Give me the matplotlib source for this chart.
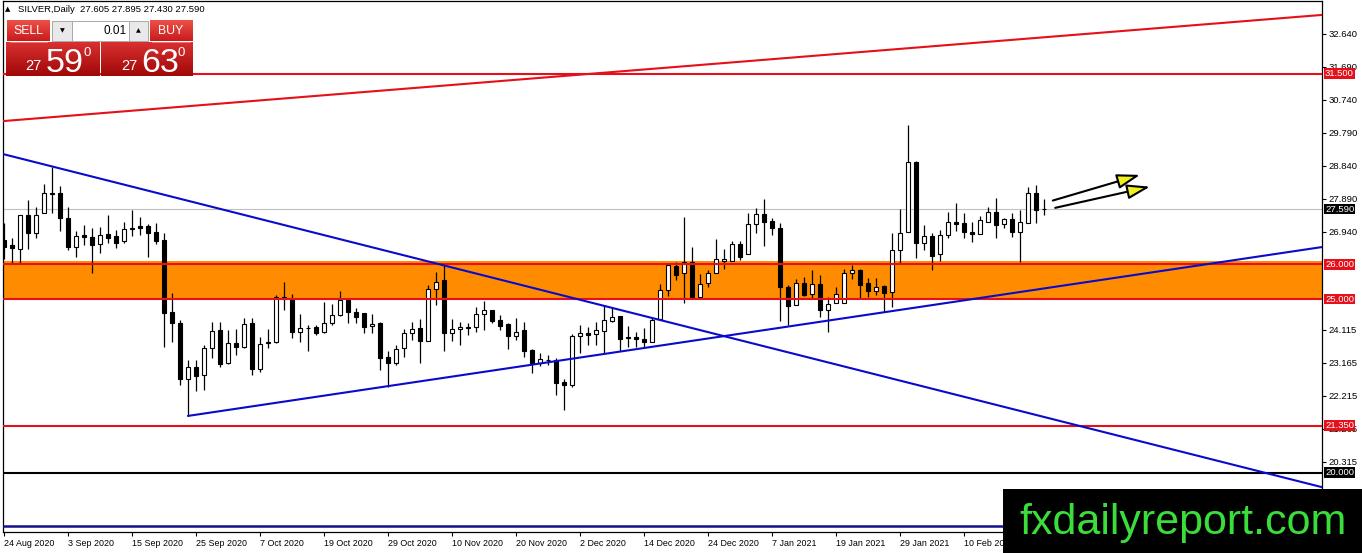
import numpy as np
import matplotlib
matplotlib.use('Agg')
import matplotlib.pyplot as plt
from matplotlib import font_manager
from matplotlib.colors import to_rgb
from matplotlib.patches import Rectangle

# daily candles, 24 Aug 2020 .. 23 Feb 2021
opens = [26.70, 26.56, 26.45, 27.41, 26.91, 27.49, 28.07, 28.05, 27.35, 26.51,
	26.84, 26.78, 26.58, 26.87, 26.81, 26.67, 27.03, 27.10, 27.10, 26.92,
	26.70, 24.62, 24.30, 22.69, 23.05, 22.81, 23.58, 24.11, 23.15, 23.73,
	23.61, 24.30, 22.98, 23.73, 23.75, 25.07, 25.02, 24.04, 24.18, 24.19,
	24.04, 24.30, 24.53, 24.97, 24.62, 24.59, 24.23, 24.30, 23.32, 23.17,
	23.58, 24.01, 24.16, 23.80, 25.28, 25.55, 24.01, 24.13, 24.18, 24.21,
	24.56, 24.69, 24.40, 24.28, 23.95, 24.11, 23.53, 23.17, 23.24, 23.24,
	22.60, 22.52, 23.94, 24.03, 24.00, 24.09, 24.38, 24.50, 23.90, 23.90,
	23.85, 23.76, 24.42, 25.26, 25.94, 25.74, 26.08, 25.07, 25.45, 25.74,
	26.11, 26.11, 26.59, 26.30, 27.16, 27.45, 27.26, 27.04, 25.34, 24.83,
	25.47, 25.15, 25.43, 24.69, 24.90, 24.88, 25.74, 25.84, 25.46, 25.24,
	25.38, 25.20, 26.42, 26.92, 28.96, 26.61, 26.82, 26.29, 26.85, 27.23,
	27.20, 26.94, 26.89, 27.23, 27.50, 27.16, 27.30, 26.94, 27.18, 28.05,
	27.605]
highs = [27.20, 26.75, 27.43, 27.87, 27.64, 28.32, 28.80, 28.26, 27.64, 26.96,
	27.13, 27.04, 27.07, 27.41, 26.99, 27.23, 27.57, 27.38, 27.16, 27.18,
	26.90, 25.17, 24.40, 23.25, 23.25, 23.68, 24.33, 24.35, 24.11, 24.13,
	24.45, 24.45, 23.92, 24.13, 25.12, 25.50, 25.15, 24.57, 24.25, 24.25,
	24.93, 24.86, 25.24, 25.02, 24.73, 24.61, 24.57, 24.35, 23.51, 23.68,
	24.13, 24.35, 24.42, 25.41, 25.79, 25.98, 24.42, 24.35, 24.32, 24.76,
	24.95, 24.70, 24.54, 24.30, 24.45, 24.35, 23.55, 23.44, 23.39, 23.29,
	22.69, 23.99, 24.25, 24.21, 24.35, 24.83, 24.73, 24.51, 24.23, 24.06,
	24.16, 24.45, 25.43, 26.01, 26.08, 27.36, 26.51, 25.72, 25.84, 26.72,
	26.43, 26.66, 26.66, 27.49, 27.62, 27.88, 27.33, 27.18, 25.41, 25.57,
	25.63, 25.84, 25.69, 25.07, 25.34, 25.86, 25.98, 25.86, 25.62, 25.60,
	25.41, 26.90, 27.60, 30.02, 28.98, 27.14, 26.90, 26.99, 27.52, 27.76,
	27.47, 27.23, 27.40, 27.66, 27.90, 27.35, 27.47, 27.57, 28.24, 28.29,
	27.895]
lows = [26.17, 26.03, 26.03, 26.43, 26.75, 27.47, 27.49, 26.97, 26.41, 26.22,
	26.56, 25.76, 26.34, 26.61, 26.48, 26.61, 26.83, 26.85, 26.22, 26.59,
	23.61, 23.75, 22.53, 21.63, 22.36, 22.38, 23.29, 23.05, 23.14, 23.39,
	23.60, 22.81, 22.91, 23.58, 23.74, 24.69, 23.87, 23.77, 23.49, 23.97,
	24.03, 24.25, 24.52, 24.30, 24.32, 24.01, 24.01, 22.96, 22.48, 23.10,
	23.32, 23.82, 23.15, 23.80, 24.83, 23.49, 23.80, 23.68, 23.97, 24.06,
	24.11, 24.30, 24.11, 23.55, 23.82, 23.32, 22.86, 23.07, 23.10, 22.24,
	21.80, 22.48, 23.46, 23.68, 23.68, 23.44, 24.35, 23.51, 23.61, 23.61,
	23.61, 23.75, 24.41, 25.09, 25.55, 24.88, 25.05, 25.02, 25.34, 25.74,
	25.86, 26.11, 26.13, 26.30, 26.91, 26.53, 26.85, 24.38, 24.25, 24.83,
	25.09, 25.02, 24.49, 24.06, 24.90, 24.88, 25.57, 24.99, 25.07, 25.12,
	24.64, 24.78, 26.03, 26.92, 26.19, 26.42, 25.84, 26.10, 26.77, 26.96,
	26.75, 26.64, 26.89, 27.23, 26.75, 27.04, 26.80, 26.08, 27.18, 27.18,
	27.430]
closes = [26.51, 26.46, 27.41, 26.91, 27.41, 28.05, 28.02, 27.35, 26.51, 26.83,
	26.78, 26.56, 26.86, 26.77, 26.63, 27.03, 27.05, 27.06, 26.91, 26.66,
	24.61, 24.30, 22.69, 23.05, 22.79, 23.58, 24.09, 23.13, 23.73, 23.61,
	24.28, 22.98, 23.71, 23.77, 25.05, 25.01, 24.04, 24.16, 24.17, 24.03,
	24.32, 24.54, 24.97, 24.62, 24.49, 24.19, 24.28, 23.29, 23.17, 23.55,
	24.03, 24.13, 23.80, 25.28, 25.50, 24.01, 24.13, 24.19, 24.19, 24.56,
	24.69, 24.38, 24.23, 23.95, 24.06, 23.51, 23.17, 23.27, 23.25, 22.59,
	22.53, 23.94, 24.03, 23.97, 24.11, 24.40, 24.48, 23.86, 23.89, 23.84,
	23.76, 24.40, 25.26, 25.98, 25.69, 26.08, 25.07, 25.43, 25.74, 26.15,
	26.15, 26.59, 26.22, 27.16, 27.45, 27.21, 27.04, 25.34, 24.81, 25.47,
	25.12, 25.43, 24.69, 24.85, 25.14, 25.74, 25.84, 25.41, 25.23, 25.36,
	25.17, 26.42, 26.90, 28.94, 26.61, 26.82, 26.25, 26.85, 27.21, 27.17,
	26.94, 26.89, 27.27, 27.50, 27.14, 27.30, 26.94, 27.21, 28.05, 27.57,
	27.590]

date_labels = ['24 Aug 2020', '3 Sep 2020', '15 Sep 2020', '25 Sep 2020', '7 Oct 2020',
	'19 Oct 2020', '29 Oct 2020', '10 Nov 2020', '20 Nov 2020', '2 Dec 2020',
	'14 Dec 2020', '24 Dec 2020', '7 Jan 2021', '19 Jan 2021', '29 Jan 2021', '10 Feb 2021']
price_ticks = [32.640, 31.690, 30.740, 29.790, 28.840, 27.890, 26.940,
	24.115, 23.165, 22.215, 21.265, 20.315]

red_levels = [31.50, 26.00, 25.00, 21.35]
black_level = 20.00
zone = [24.97, 26.10]
bid = 27.590
ask = 27.630
lot = '0.01'
bottom_level = 18.46

# trend lines as (bar, price) anchors
upper_red = [(-0.125, 30.13), (164.75, 33.19)]
down_blue = [(-0.125, 29.18), (164.75, 19.58)]
up_blue = [(22.9, 21.63), (164.75, 26.50)]
arrows = [((131.1, 27.84), (142.0, 28.58)), ((131.4, 27.63), (143.25, 28.24))]

W, H = 1362, 553
RED = '#E5101A'
BLUE = '#0A0ACD'


def hasFont(name):
	try:
		font_manager.findfont(font_manager.FontProperties(family=name), fallback_to_default=False)
		return True
	except ValueError:
		return False


def gradBox(ax, x0, y0, x1, y1, top, bot):
	c = np.linspace(0, 1, 40)[:, None, None]
	img = (1 - c) * np.array(to_rgb(top)) + c * np.array(to_rgb(bot))
	ax.imshow(img, extent=(x0, x1, y1, y0), aspect='auto', interpolation='bilinear', zorder=2)


plt.rcParams['font.family'] = ['Liberation Sans', 'DejaVu Sans']
if hasFont('Liberation Sans Narrow'):
	fam = ['Liberation Sans Narrow', 'DejaVu Sans']
	ylab = dict(family=fam, size=8)
	xlab = dict(family=fam, size=7.6)
	btn = dict(family=fam, size=10)
	mark = dict(family=fam, size=37)
else:
	fam = ['Liberation Sans', 'DejaVu Sans']
	ylab = dict(family=fam, size=6.8)
	xlab = dict(family=fam, size=6.4)
	btn = dict(family=fam, size=8.8)
	mark = dict(family=fam, size=31)

fig = plt.figure(figsize=(W / 100, H / 100), dpi=100, facecolor='white')
ax = fig.add_axes([3 / W, (H - 532) / H, 1319 / W, 531 / H])
ax.set_xlim(-0.125, 164.75)
ax.set_ylim(18.288, 33.591)

x = np.arange(len(opens))
o = np.array(opens)
c = np.array(closes)

# background objects
ax.axhspan(zone[0], zone[1], color='#FF8C00', lw=0, zorder=1)
ax.axhline(bid, color='#C0C0C0', lw=0.8, zorder=1.5)

# candles
ax.vlines(x, lows, highs, color='black', lw=0.9, zorder=2.5)
face = np.where(c >= o, 'white', 'black')
ax.bar(x, np.abs(c - o), bottom=np.minimum(o, c), width=0.56, color=face,
	edgecolor='black', linewidth=0.8, zorder=3)

# lines
for lv in red_levels:
	ax.axhline(lv, color=RED, lw=1.5, zorder=4)
ax.axhline(black_level, color='black', lw=1.5, zorder=4)
ax.axhline(bottom_level, color='#12128C', lw=1.8, zorder=4)
for line, col in [(upper_red, RED), (down_blue, BLUE), (up_blue, BLUE)]:
	ax.plot([p[0] for p in line], [p[1] for p in line], color=col, lw=1.5, zorder=4,
		solid_capstyle='butt')

for start, tip in arrows:
	ax.annotate('', xy=tip, xytext=start, zorder=5,
		arrowprops=dict(arrowstyle='-|>,head_length=1.4,head_width=0.45', mutation_scale=10,
			fc='#EEF020', ec='black', lw=1.5, shrinkA=0, shrinkB=0))

# axes look
for s in ax.spines.values():
	s.set_linewidth(0.9)
ax.yaxis.tick_right()
ax.set_yticks(price_ticks)
ax.set_yticklabels(['%.3f' % v for v in price_ticks], **ylab)
ax.set_xticks(np.arange(len(date_labels)) * 8)
ax.set_xticklabels(date_labels, ha='left', **xlab)
ax.tick_params(axis='y', direction='out', length=3, width=0.8, pad=2)
ax.tick_params(axis='x', direction='out', length=3, width=0.8, pad=2)
for lbl in ax.get_xticklabels():
	lbl.set_ha('left')

# price labels on the right scale
boxes = [(v, RED) for v in red_levels] + [(bid, 'black'), (black_level, 'black')]
for v, col in boxes:
	ax.annotate('%.3f' % v, xy=(1, v), xycoords=('axes fraction', 'data'), xytext=(2.2, 0),
		textcoords='offset points', ha='left', va='center', color='white', zorder=6,
		bbox=dict(boxstyle='square,pad=0.08', fc=col, ec='none'), **ylab)

# overlay: header, trade panel, watermark (pixel coords)
ov = fig.add_axes([0, 0, 1, 1], zorder=10)
ov.patch.set_visible(False)
ov.axis('off')

ov.text(5, 9.5, '\u25B2', family='DejaVu Sans', size=5, va='center')
ov.text(18, 9.5, 'SILVER,Daily  %.3f %.3f %.3f %.3f' % (opens[-1], highs[-1], lows[-1], closes[-1]),
	size=6.8, va='center')

gradBox(ov, 7, 20.5, 49.5, 41, '#EE5048', '#C81C1C')
gradBox(ov, 149.5, 20.5, 192.5, 41, '#EE5048', '#C81C1C')
gradBox(ov, 6, 42, 99.5, 76, '#D93030', '#A00808')
gradBox(ov, 101, 42, 192.5, 76, '#D93030', '#A00808')
ov.add_patch(Rectangle((52, 20.5), 19.5, 20, fc='#E9E9E9', ec='#A8A8A8', lw=0.7, zorder=2))
ov.add_patch(Rectangle((71.5, 20.5), 57, 20, fc='white', ec='#A8A8A8', lw=0.7, zorder=2))
ov.add_patch(Rectangle((128.5, 20.5), 19.5, 20, fc='#E9E9E9', ec='#A8A8A8', lw=0.7, zorder=2))
ov.plot([10, 47], [41.5, 41.5], color='#F08080', lw=0.6, zorder=3)
ov.plot([152, 190], [41.5, 41.5], color='#F08080', lw=0.6, zorder=3)
ov.text(62, 30.5, '\u25BC', family='DejaVu Sans', size=4.5, ha='center', va='center', zorder=3)
ov.text(138, 30.5, '\u25B2', family='DejaVu Sans', size=4.5, ha='center', va='center', zorder=3)
ov.text(126.5, 31, lot, ha='right', va='center', size=8.5, zorder=3)
ov.text(28, 31, 'SELL', ha='center', va='center', color='white', zorder=3, **btn)
ov.text(171, 31, 'BUY', ha='center', va='center', color='white', zorder=3, **btn)

for px, price in [(6, bid), (101, ask)]:
	s = '%.3f' % price
	ov.text(px + 36, 70.5, s[:2], ha='right', va='baseline', color='white', size=10.5, zorder=3)
	ov.text(px + 40, 71.8, s[3:5], ha='left', va='baseline', color='white', size=24.5, zorder=3)
	ov.text(px + 77, 56, s[5], ha='left', va='baseline', color='white', size=9.5, zorder=3)

ov.add_patch(Rectangle((1003, 489), 359, 64, fc='black', ec='none', zorder=5))
ov.text(1019, 534, 'fxdailyreport.com', color='#3BDD3B', ha='left', va='baseline', zorder=6, **mark)

ov.set_xlim(0, W)
ov.set_ylim(H, 0)

fig.savefig('out.png', dpi=100, facecolor='white')
